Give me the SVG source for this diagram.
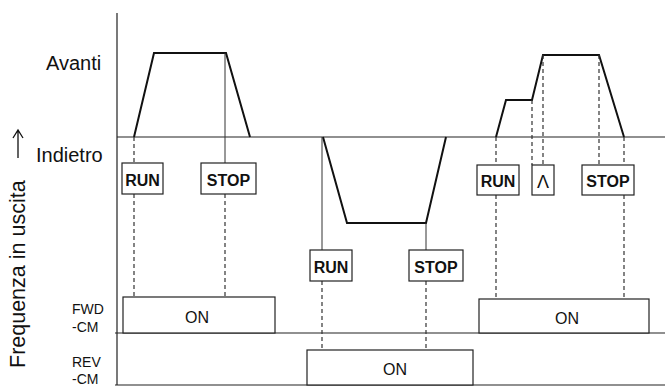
<svg xmlns="http://www.w3.org/2000/svg" width="665" height="387" viewBox="0 0 665 387">
<style>
text{font-family:"Liberation Sans",Arial,sans-serif;fill:#111}
.lbl{font-size:20px}
.sig{font-size:14px}
.bx{font-size:16px;font-weight:bold;text-anchor:middle}
.on{font-size:16px;text-anchor:middle}
.box{fill:#fff;stroke:#222;stroke-width:1.2}
.ax{fill:none;stroke:#222;stroke-width:1.2}
.pr{fill:none;stroke:#111;stroke-width:2}
.sl{fill:none;stroke:#333;stroke-width:1}
.dl{fill:none;stroke:#333;stroke-width:1.2;stroke-dasharray:4 3}
</style>
<rect width="665" height="387" fill="#fff"/>
<g id="labels">
<text class="lbl" x="46" y="70">Avanti</text>
<text class="lbl" x="36" y="162">Indietro</text>
<text class="lbl" transform="translate(25,368) rotate(-90)" style="font-size:21.5px">Frequenza in uscita</text>
<path d="M18,158 V130 M13,138 L18,130 L23,138" fill="none" stroke="#111" stroke-width="1.3"/>
<text class="sig" x="72" y="314">FWD</text>
<text class="sig" x="72" y="332">-CM</text>
<text class="sig" x="72" y="367">REV</text>
<text class="sig" x="72" y="384">-CM</text>
</g>
<g id="connectors">
<path class="ax" d="M117,13 V385 M117,137 H665 M115,333 H665 M115,385 H665"/>
<path class="pr" d="M134,137 L154,53 H226 L250,137"/>
<path class="pr" d="M323,137 L347,223 H426 L446,137"/>
<path class="pr" d="M496,137 L506,100 H532 L543,55 H599 L624,137"/>
<path class="dl" d="M134,137 V163 M134,194 V297 M225,194 V297"/>
<path class="sl" d="M225,53 V163 M322,137 V250 M426,223 V250"/>
<path class="dl" d="M322,281 V350 M426,281 V350"/>
<path class="dl" d="M496,137 V165 M496,195 V299 M624,137 V165 M624,195 V299 M532,100 V165 M543,55 V165 M599,55 V165"/>
</g>
<g id="run1"><rect class="box" x="122" y="163" width="41" height="31"/><text class="bx" x="142.5" y="186">RUN</text></g>
<g id="stop1"><rect class="box" x="201" y="163" width="55" height="31"/><text class="bx" x="228.5" y="186">STOP</text></g>
<g id="run2"><rect class="box" x="310" y="250" width="42" height="31"/><text class="bx" x="331" y="273">RUN</text></g>
<g id="stop2"><rect class="box" x="409" y="250" width="54" height="31"/><text class="bx" x="436" y="273">STOP</text></g>
<g id="run3"><rect class="box" x="477" y="165" width="42" height="30"/><text class="bx" x="498" y="187">RUN</text></g>
<g id="up"><rect class="box" x="532" y="165" width="22" height="30"/><text class="bx" x="543" y="188" style="font-weight:normal;font-size:18px">Λ</text></g>
<g id="stop3"><rect class="box" x="582" y="165" width="52" height="30"/><text class="bx" x="608" y="187">STOP</text></g>
<g id="fwd1"><rect class="box" x="123" y="297" width="152" height="36"/><text class="on" x="197" y="323">ON</text></g>
<g id="fwd2"><rect class="box" x="479" y="299" width="170" height="34"/><text class="on" x="567" y="324">ON</text></g>
<g id="rev"><rect class="box" x="307" y="350" width="166" height="35"/><text class="on" x="395" y="375">ON</text></g>
</svg>
